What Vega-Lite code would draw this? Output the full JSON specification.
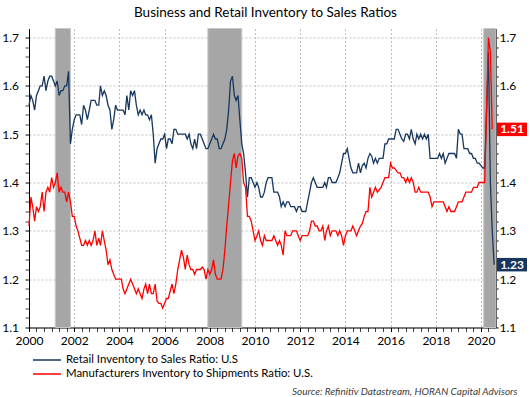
{
  "$schema": "https://vega.github.io/schema/vega-lite/v6.json",
  "width": 467,
  "height": 299,
  "autosize": "none",
  "padding": {"left": 29, "top": 28.5, "right": 34, "bottom": 69.5},
  "background": "white",
  "title": {"text": "Business and Retail Inventory to Sales Ratios", "font": "Lato", "fontSize": 13.5, "fontWeight": "normal", "color": "#000000", "anchor": "middle", "baseline": "alphabetic", "offset": 12, "dx": 3, "dy": 14},
  "datasets": {
    "recessions": [
      {"start": "2001-03-01", "end": "2001-11-01"},
      {"start": "2007-12-01", "end": "2009-06-01"},
      {"start": "2020-02-15", "end": "2020-08-31"}
    ],
    "labels": [
      {"series": "mfg", "value": 1.51, "label": "1.51"},
      {"series": "retail", "value": 1.23, "label": "1.23"}
    ],
    "series": [
      {"date":"2000-01-01","retail":1.56,"mfg":1.31},{"date":"2000-02-01","retail":1.58,"mfg":1.37},{"date":"2000-03-01","retail":1.57,"mfg":1.35},{"date":"2000-04-01","retail":1.55,"mfg":1.32},{"date":"2000-05-01","retail":1.58,"mfg":1.35},{"date":"2000-06-01","retail":1.59,"mfg":1.34},{"date":"2000-07-01","retail":1.60,"mfg":1.35},{"date":"2000-08-01","retail":1.60,"mfg":1.38},{"date":"2000-09-01","retail":1.62,"mfg":1.34},{"date":"2000-10-01","retail":1.59,"mfg":1.38},{"date":"2000-11-01","retail":1.61,"mfg":1.39},{"date":"2000-12-01","retail":1.62,"mfg":1.38},
      {"date":"2001-01-01","retail":1.62,"mfg":1.41},{"date":"2001-02-01","retail":1.61,"mfg":1.39},{"date":"2001-03-01","retail":1.60,"mfg":1.40},{"date":"2001-04-01","retail":1.61,"mfg":1.42},{"date":"2001-05-01","retail":1.58,"mfg":1.38},{"date":"2001-06-01","retail":1.59,"mfg":1.39},{"date":"2001-07-01","retail":1.59,"mfg":1.38},{"date":"2001-08-01","retail":1.60,"mfg":1.38},{"date":"2001-09-01","retail":1.60,"mfg":1.36},{"date":"2001-10-01","retail":1.63,"mfg":1.38},{"date":"2001-11-01","retail":1.48,"mfg":1.36},{"date":"2001-12-01","retail":1.51,"mfg":1.33},
      {"date":"2002-01-01","retail":1.53,"mfg":1.33},{"date":"2002-02-01","retail":1.54,"mfg":1.31},{"date":"2002-03-01","retail":1.54,"mfg":1.30},{"date":"2002-04-01","retail":1.54,"mfg":1.285},{"date":"2002-05-01","retail":1.52,"mfg":1.27},{"date":"2002-06-01","retail":1.56,"mfg":1.27},{"date":"2002-07-01","retail":1.55,"mfg":1.28},{"date":"2002-08-01","retail":1.53,"mfg":1.27},{"date":"2002-09-01","retail":1.55,"mfg":1.28},{"date":"2002-10-01","retail":1.57,"mfg":1.27},{"date":"2002-11-01","retail":1.57,"mfg":1.28},{"date":"2002-12-01","retail":1.57,"mfg":1.30},
      {"date":"2003-01-01","retail":1.56,"mfg":1.27},{"date":"2003-02-01","retail":1.56,"mfg":1.285},{"date":"2003-03-01","retail":1.60,"mfg":1.27},{"date":"2003-04-01","retail":1.58,"mfg":1.30},{"date":"2003-05-01","retail":1.59,"mfg":1.28},{"date":"2003-06-01","retail":1.58,"mfg":1.26},{"date":"2003-07-01","retail":1.56,"mfg":1.23},{"date":"2003-08-01","retail":1.55,"mfg":1.24},{"date":"2003-09-01","retail":1.51,"mfg":1.22},{"date":"2003-10-01","retail":1.53,"mfg":1.21},{"date":"2003-11-01","retail":1.56,"mfg":1.20},{"date":"2003-12-01","retail":1.55,"mfg":1.20},
      {"date":"2004-01-01","retail":1.55,"mfg":1.20},{"date":"2004-02-01","retail":1.55,"mfg":1.20},{"date":"2004-03-01","retail":1.55,"mfg":1.18},{"date":"2004-04-01","retail":1.54,"mfg":1.17},{"date":"2004-05-01","retail":1.58,"mfg":1.18},{"date":"2004-06-01","retail":1.55,"mfg":1.19},{"date":"2004-07-01","retail":1.59,"mfg":1.20},{"date":"2004-08-01","retail":1.58,"mfg":1.19},{"date":"2004-09-01","retail":1.59,"mfg":1.18},{"date":"2004-10-01","retail":1.56,"mfg":1.17},{"date":"2004-11-01","retail":1.54,"mfg":1.18},{"date":"2004-12-01","retail":1.55,"mfg":1.17},
      {"date":"2005-01-01","retail":1.54,"mfg":1.16},{"date":"2005-02-01","retail":1.55,"mfg":1.18},{"date":"2005-03-01","retail":1.54,"mfg":1.19},{"date":"2005-04-01","retail":1.54,"mfg":1.17},{"date":"2005-05-01","retail":1.53,"mfg":1.19},{"date":"2005-06-01","retail":1.54,"mfg":1.17},{"date":"2005-07-01","retail":1.50,"mfg":1.17},{"date":"2005-08-01","retail":1.44,"mfg":1.19},{"date":"2005-09-01","retail":1.47,"mfg":1.155},{"date":"2005-10-01","retail":1.48,"mfg":1.15},{"date":"2005-11-01","retail":1.49,"mfg":1.15},{"date":"2005-12-01","retail":1.49,"mfg":1.14},
      {"date":"2006-01-01","retail":1.50,"mfg":1.15},{"date":"2006-02-01","retail":1.47,"mfg":1.16},{"date":"2006-03-01","retail":1.49,"mfg":1.16},{"date":"2006-04-01","retail":1.49,"mfg":1.175},{"date":"2006-05-01","retail":1.48,"mfg":1.19},{"date":"2006-06-01","retail":1.51,"mfg":1.17},{"date":"2006-07-01","retail":1.51,"mfg":1.19},{"date":"2006-08-01","retail":1.50,"mfg":1.22},{"date":"2006-09-01","retail":1.50,"mfg":1.24},{"date":"2006-10-01","retail":1.50,"mfg":1.26},{"date":"2006-11-01","retail":1.50,"mfg":1.245},{"date":"2006-12-01","retail":1.50,"mfg":1.22},
      {"date":"2007-01-01","retail":1.49,"mfg":1.25},{"date":"2007-02-01","retail":1.50,"mfg":1.23},{"date":"2007-03-01","retail":1.48,"mfg":1.22},{"date":"2007-04-01","retail":1.47,"mfg":1.22},{"date":"2007-05-01","retail":1.49,"mfg":1.21},{"date":"2007-06-01","retail":1.47,"mfg":1.22},{"date":"2007-07-01","retail":1.50,"mfg":1.22},{"date":"2007-08-01","retail":1.50,"mfg":1.22},{"date":"2007-09-01","retail":1.49,"mfg":1.225},{"date":"2007-10-01","retail":1.48,"mfg":1.22},{"date":"2007-11-01","retail":1.47,"mfg":1.20},{"date":"2007-12-01","retail":1.47,"mfg":1.22},
      {"date":"2008-01-01","retail":1.48,"mfg":1.21},{"date":"2008-02-01","retail":1.49,"mfg":1.22},{"date":"2008-03-01","retail":1.50,"mfg":1.24},{"date":"2008-04-01","retail":1.49,"mfg":1.21},{"date":"2008-05-01","retail":1.49,"mfg":1.20},{"date":"2008-06-01","retail":1.47,"mfg":1.20},{"date":"2008-07-01","retail":1.47,"mfg":1.20},{"date":"2008-08-01","retail":1.48,"mfg":1.22},{"date":"2008-09-01","retail":1.49,"mfg":1.26},{"date":"2008-10-01","retail":1.51,"mfg":1.31},{"date":"2008-11-01","retail":1.55,"mfg":1.355},{"date":"2008-12-01","retail":1.61,"mfg":1.40},
      {"date":"2009-01-01","retail":1.62,"mfg":1.445},{"date":"2009-02-01","retail":1.58,"mfg":1.46},{"date":"2009-03-01","retail":1.57,"mfg":1.43},{"date":"2009-04-01","retail":1.58,"mfg":1.455},{"date":"2009-05-01","retail":1.53,"mfg":1.46},{"date":"2009-06-01","retail":1.48,"mfg":1.45},{"date":"2009-07-01","retail":1.46,"mfg":1.40},{"date":"2009-08-01","retail":1.42,"mfg":1.39},{"date":"2009-09-01","retail":1.37,"mfg":1.33},{"date":"2009-10-01","retail":1.41,"mfg":1.33},{"date":"2009-11-01","retail":1.41,"mfg":1.32},{"date":"2009-12-01","retail":1.40,"mfg":1.30},
      {"date":"2010-01-01","retail":1.39,"mfg":1.28},{"date":"2010-02-01","retail":1.40,"mfg":1.29},{"date":"2010-03-01","retail":1.39,"mfg":1.30},{"date":"2010-04-01","retail":1.37,"mfg":1.28},{"date":"2010-05-01","retail":1.37,"mfg":1.27},{"date":"2010-06-01","retail":1.38,"mfg":1.29},{"date":"2010-07-01","retail":1.40,"mfg":1.28},{"date":"2010-08-01","retail":1.41,"mfg":1.28},{"date":"2010-09-01","retail":1.41,"mfg":1.28},{"date":"2010-10-01","retail":1.41,"mfg":1.28},{"date":"2010-11-01","retail":1.38,"mfg":1.29},{"date":"2010-12-01","retail":1.38,"mfg":1.28},
      {"date":"2011-01-01","retail":1.38,"mfg":1.27},{"date":"2011-02-01","retail":1.37,"mfg":1.28},{"date":"2011-03-01","retail":1.35,"mfg":1.27},{"date":"2011-04-01","retail":1.36,"mfg":1.25},{"date":"2011-05-01","retail":1.35,"mfg":1.30},{"date":"2011-06-01","retail":1.36,"mfg":1.29},{"date":"2011-07-01","retail":1.36,"mfg":1.29},{"date":"2011-08-01","retail":1.35,"mfg":1.29},{"date":"2011-09-01","retail":1.35,"mfg":1.30},{"date":"2011-10-01","retail":1.35,"mfg":1.30},{"date":"2011-11-01","retail":1.34,"mfg":1.30},{"date":"2011-12-01","retail":1.35,"mfg":1.29},
      {"date":"2012-01-01","retail":1.35,"mfg":1.28},{"date":"2012-02-01","retail":1.34,"mfg":1.29},{"date":"2012-03-01","retail":1.34,"mfg":1.29},{"date":"2012-04-01","retail":1.34,"mfg":1.29},{"date":"2012-05-01","retail":1.36,"mfg":1.29},{"date":"2012-06-01","retail":1.38,"mfg":1.30},{"date":"2012-07-01","retail":1.40,"mfg":1.32},{"date":"2012-08-01","retail":1.41,"mfg":1.32},{"date":"2012-09-01","retail":1.40,"mfg":1.31},{"date":"2012-10-01","retail":1.39,"mfg":1.31},{"date":"2012-11-01","retail":1.39,"mfg":1.30},{"date":"2012-12-01","retail":1.39,"mfg":1.30},
      {"date":"2013-01-01","retail":1.39,"mfg":1.31},{"date":"2013-02-01","retail":1.40,"mfg":1.28},{"date":"2013-03-01","retail":1.39,"mfg":1.30},{"date":"2013-04-01","retail":1.41,"mfg":1.31},{"date":"2013-05-01","retail":1.41,"mfg":1.29},{"date":"2013-06-01","retail":1.40,"mfg":1.30},{"date":"2013-07-01","retail":1.40,"mfg":1.30},{"date":"2013-08-01","retail":1.40,"mfg":1.30},{"date":"2013-09-01","retail":1.41,"mfg":1.29},{"date":"2013-10-01","retail":1.42,"mfg":1.30},{"date":"2013-11-01","retail":1.44,"mfg":1.29},{"date":"2013-12-01","retail":1.46,"mfg":1.27},
      {"date":"2014-01-01","retail":1.46,"mfg":1.29},{"date":"2014-02-01","retail":1.47,"mfg":1.30},{"date":"2014-03-01","retail":1.45,"mfg":1.30},{"date":"2014-04-01","retail":1.43,"mfg":1.30},{"date":"2014-05-01","retail":1.42,"mfg":1.31},{"date":"2014-06-01","retail":1.42,"mfg":1.30},{"date":"2014-07-01","retail":1.42,"mfg":1.29},{"date":"2014-08-01","retail":1.44,"mfg":1.30},{"date":"2014-09-01","retail":1.42,"mfg":1.31},{"date":"2014-10-01","retail":1.435,"mfg":1.315},{"date":"2014-11-01","retail":1.44,"mfg":1.33},{"date":"2014-12-01","retail":1.43,"mfg":1.34},
      {"date":"2015-01-01","retail":1.45,"mfg":1.34},{"date":"2015-02-01","retail":1.46,"mfg":1.39},{"date":"2015-03-01","retail":1.455,"mfg":1.37},{"date":"2015-04-01","retail":1.44,"mfg":1.38},{"date":"2015-05-01","retail":1.45,"mfg":1.39},{"date":"2015-06-01","retail":1.44,"mfg":1.38},{"date":"2015-07-01","retail":1.45,"mfg":1.385},{"date":"2015-08-01","retail":1.45,"mfg":1.39},{"date":"2015-09-01","retail":1.45,"mfg":1.40},{"date":"2015-10-01","retail":1.48,"mfg":1.41},{"date":"2015-11-01","retail":1.48,"mfg":1.41},{"date":"2015-12-01","retail":1.49,"mfg":1.41},
      {"date":"2016-01-01","retail":1.49,"mfg":1.44},{"date":"2016-02-01","retail":1.49,"mfg":1.43},{"date":"2016-03-01","retail":1.49,"mfg":1.43},{"date":"2016-04-01","retail":1.51,"mfg":1.425},{"date":"2016-05-01","retail":1.51,"mfg":1.42},{"date":"2016-06-01","retail":1.50,"mfg":1.42},{"date":"2016-07-01","retail":1.49,"mfg":1.41},{"date":"2016-08-01","retail":1.485,"mfg":1.41},{"date":"2016-09-01","retail":1.50,"mfg":1.40},{"date":"2016-10-01","retail":1.50,"mfg":1.41},{"date":"2016-11-01","retail":1.49,"mfg":1.40},{"date":"2016-12-01","retail":1.51,"mfg":1.41},
      {"date":"2017-01-01","retail":1.49,"mfg":1.40},{"date":"2017-02-01","retail":1.48,"mfg":1.38},{"date":"2017-03-01","retail":1.50,"mfg":1.38},{"date":"2017-04-01","retail":1.49,"mfg":1.39},{"date":"2017-05-01","retail":1.50,"mfg":1.38},{"date":"2017-06-01","retail":1.49,"mfg":1.38},{"date":"2017-07-01","retail":1.50,"mfg":1.38},{"date":"2017-08-01","retail":1.49,"mfg":1.38},{"date":"2017-09-01","retail":1.50,"mfg":1.38},{"date":"2017-10-01","retail":1.45,"mfg":1.37},{"date":"2017-11-01","retail":1.45,"mfg":1.35},{"date":"2017-12-01","retail":1.45,"mfg":1.36},
      {"date":"2018-01-01","retail":1.45,"mfg":1.36},{"date":"2018-02-01","retail":1.45,"mfg":1.36},{"date":"2018-03-01","retail":1.46,"mfg":1.36},{"date":"2018-04-01","retail":1.45,"mfg":1.36},{"date":"2018-05-01","retail":1.46,"mfg":1.36},{"date":"2018-06-01","retail":1.44,"mfg":1.35},{"date":"2018-07-01","retail":1.45,"mfg":1.34},{"date":"2018-08-01","retail":1.46,"mfg":1.35},{"date":"2018-09-01","retail":1.46,"mfg":1.34},{"date":"2018-10-01","retail":1.46,"mfg":1.34},{"date":"2018-11-01","retail":1.46,"mfg":1.34},{"date":"2018-12-01","retail":1.45,"mfg":1.35},
      {"date":"2019-01-01","retail":1.51,"mfg":1.36},{"date":"2019-02-01","retail":1.50,"mfg":1.36},{"date":"2019-03-01","retail":1.50,"mfg":1.36},{"date":"2019-04-01","retail":1.47,"mfg":1.37},{"date":"2019-05-01","retail":1.47,"mfg":1.38},{"date":"2019-06-01","retail":1.47,"mfg":1.38},{"date":"2019-07-01","retail":1.46,"mfg":1.38},{"date":"2019-08-01","retail":1.46,"mfg":1.38},{"date":"2019-09-01","retail":1.45,"mfg":1.39},{"date":"2019-10-01","retail":1.45,"mfg":1.39},{"date":"2019-11-01","retail":1.44,"mfg":1.39},{"date":"2019-12-01","retail":1.44,"mfg":1.40},
      {"date":"2020-01-01","retail":1.435,"mfg":1.40},{"date":"2020-02-01","retail":1.43,"mfg":1.40},{"date":"2020-03-01","retail":1.43,"mfg":1.40},{"date":"2020-04-01","retail":1.55,"mfg":1.55},{"date":"2020-05-01","retail":1.67,"mfg":1.70},{"date":"2020-06-01","retail":1.40,"mfg":1.67},{"date":"2020-07-01","retail":1.30,"mfg":1.51},{"date":"2020-08-01","retail":1.23,"mfg":null}
    ]
  },
  "layer": [
    {
      "data": {"name": "recessions"},
      "mark": {"type": "rect", "color": "#A6A6A6", "stroke": "#C6C6C6", "strokeWidth": 1},
      "encoding": {
        "x": {"field": "start", "type": "temporal"},
        "x2": {"field": "end"}
      }
    },
    {
      "data": {"name": "series"},
      "transform": [{"fold": ["retail", "mfg"], "as": ["series", "value"]}],
      "mark": {"type": "line", "strokeWidth": 1.3},
      "encoding": {
        "x": {
          "field": "date", "type": "temporal",
          "scale": {"type": "utc", "domain": [{"year": 2000, "month": 1, "date": 1, "utc": true}, {"year": 2020, "month": 8, "date": 31, "utc": true}]},
          "axis": {
            "values": [
              {"year": 2000, "month": 1, "date": 1, "utc": true}, {"year": 2000, "month": 5, "date": 1, "utc": true}, {"year": 2000, "month": 9, "date": 1, "utc": true},
              {"year": 2001, "month": 1, "date": 1, "utc": true}, {"year": 2001, "month": 5, "date": 1, "utc": true}, {"year": 2001, "month": 9, "date": 1, "utc": true},
              {"year": 2002, "month": 1, "date": 1, "utc": true}, {"year": 2002, "month": 5, "date": 1, "utc": true}, {"year": 2002, "month": 9, "date": 1, "utc": true},
              {"year": 2003, "month": 1, "date": 1, "utc": true}, {"year": 2003, "month": 5, "date": 1, "utc": true}, {"year": 2003, "month": 9, "date": 1, "utc": true},
              {"year": 2004, "month": 1, "date": 1, "utc": true}, {"year": 2004, "month": 5, "date": 1, "utc": true}, {"year": 2004, "month": 9, "date": 1, "utc": true},
              {"year": 2005, "month": 1, "date": 1, "utc": true}, {"year": 2005, "month": 5, "date": 1, "utc": true}, {"year": 2005, "month": 9, "date": 1, "utc": true},
              {"year": 2006, "month": 1, "date": 1, "utc": true}, {"year": 2006, "month": 5, "date": 1, "utc": true}, {"year": 2006, "month": 9, "date": 1, "utc": true},
              {"year": 2007, "month": 1, "date": 1, "utc": true}, {"year": 2007, "month": 5, "date": 1, "utc": true}, {"year": 2007, "month": 9, "date": 1, "utc": true},
              {"year": 2008, "month": 1, "date": 1, "utc": true}, {"year": 2008, "month": 5, "date": 1, "utc": true}, {"year": 2008, "month": 9, "date": 1, "utc": true},
              {"year": 2009, "month": 1, "date": 1, "utc": true}, {"year": 2009, "month": 5, "date": 1, "utc": true}, {"year": 2009, "month": 9, "date": 1, "utc": true},
              {"year": 2010, "month": 1, "date": 1, "utc": true}, {"year": 2010, "month": 5, "date": 1, "utc": true}, {"year": 2010, "month": 9, "date": 1, "utc": true},
              {"year": 2011, "month": 1, "date": 1, "utc": true}, {"year": 2011, "month": 5, "date": 1, "utc": true}, {"year": 2011, "month": 9, "date": 1, "utc": true},
              {"year": 2012, "month": 1, "date": 1, "utc": true}, {"year": 2012, "month": 5, "date": 1, "utc": true}, {"year": 2012, "month": 9, "date": 1, "utc": true},
              {"year": 2013, "month": 1, "date": 1, "utc": true}, {"year": 2013, "month": 5, "date": 1, "utc": true}, {"year": 2013, "month": 9, "date": 1, "utc": true},
              {"year": 2014, "month": 1, "date": 1, "utc": true}, {"year": 2014, "month": 5, "date": 1, "utc": true}, {"year": 2014, "month": 9, "date": 1, "utc": true},
              {"year": 2015, "month": 1, "date": 1, "utc": true}, {"year": 2015, "month": 5, "date": 1, "utc": true}, {"year": 2015, "month": 9, "date": 1, "utc": true},
              {"year": 2016, "month": 1, "date": 1, "utc": true}, {"year": 2016, "month": 5, "date": 1, "utc": true}, {"year": 2016, "month": 9, "date": 1, "utc": true},
              {"year": 2017, "month": 1, "date": 1, "utc": true}, {"year": 2017, "month": 5, "date": 1, "utc": true}, {"year": 2017, "month": 9, "date": 1, "utc": true},
              {"year": 2018, "month": 1, "date": 1, "utc": true}, {"year": 2018, "month": 5, "date": 1, "utc": true}, {"year": 2018, "month": 9, "date": 1, "utc": true},
              {"year": 2019, "month": 1, "date": 1, "utc": true}, {"year": 2019, "month": 5, "date": 1, "utc": true}, {"year": 2019, "month": 9, "date": 1, "utc": true},
              {"year": 2020, "month": 1, "date": 1, "utc": true}, {"year": 2020, "month": 5, "date": 1, "utc": true}
            ],
            "tickCount": 200,
            "labelExpr": "utcmonth(datum.value) == 0 && utcyear(datum.value) % 2 == 0 ? utcFormat(datum.value, '%Y') : ''",
            "labelOverlap": false,
            "title": "Source: Refinitiv Datastream, HORAN Capital Advisors",
            "titleFont": "Lato", "titleFontStyle": "italic", "titleFontWeight": "normal", "titleFontSize": 10, "titleColor": "#404040",
            "titleAnchor": "end", "titleAlign": "right", "titleX": 488, "titleY": 64, "titleBaseline": "middle",
            "grid": true,
            "gridOpacity": {"condition": {"test": "utcmonth(datum.value) == 0 && utcyear(datum.value) % 2 == 0", "value": 1}, "value": 0},
            "tickSize": 4,
            "tickOpacity": {"condition": {"test": "utcmonth(datum.value) == 0 && utcyear(datum.value) % 2 == 0", "value": 1}, "value": 0.75},
            "labelPadding": 4, "labelFlush": false, "labelFontSize": 12
          }
        },
        "y": {
          "field": "value", "type": "quantitative",
          "scale": {"domain": [1.1, 1.7187], "nice": false, "zero": false},
          "axis": {
            "title": null, "orient": "left",
            "values": [1.1, 1.12, 1.14, 1.16, 1.18, 1.2, 1.22, 1.24, 1.26, 1.28, 1.3, 1.32, 1.34, 1.36, 1.38, 1.4, 1.42, 1.44, 1.46, 1.48, 1.5, 1.52, 1.54, 1.56, 1.58, 1.6, 1.62, 1.64, 1.66, 1.68, 1.7],
            "tickCount": 200,
            "labelExpr": "abs(datum.value * 10 - round(datum.value * 10)) < 0.01 ? format(datum.value, '.1f') : ''",
            "labelOverlap": false,
            "grid": true,
            "gridOpacity": {"condition": {"test": "abs(datum.value * 10 - round(datum.value * 10)) < 0.01", "value": 1}, "value": 0},
            "tickSize": 4,
            "tickOpacity": {"condition": {"test": "abs(datum.value * 10 - round(datum.value * 10)) < 0.01", "value": 1}, "value": 0.75},
            "labelPadding": 6.5, "labelFontSize": 12
          }
        },
        "color": {
          "field": "series", "type": "nominal",
          "scale": {"domain": ["retail", "mfg"], "range": ["#17375E", "#FF0000"]},
          "legend": {
            "orient": "none", "legendX": 3, "legendY": 324.75, "direction": "vertical", "title": null,
            "symbolType": "stroke", "symbolSize": 784, "symbolStrokeWidth": 1.3,
            "labelFont": "Lato", "labelFontSize": 11.4, "labelColor": "#000000", "labelOffset": 4, "labelLimit": 500,
            "clipHeight": 13.5, "rowPadding": 0, "padding": 0,
            "labelExpr": "datum.value == 'retail' ? 'Retail Inventory to Sales Ratio: U.S' : 'Manufacturers Inventory to Shipments Ratio: U.S.'"
          }
        }
      }
    },
    {
      "data": {"name": "labels"},
      "transform": [{"filter": "datum.series == 'mfg'"}],
      "mark": {"type": "point", "shape": "M0.067,-0.45H2.067V0.45H0.067Z", "size": 900, "filled": true, "color": "#FF0000", "opacity": 1, "strokeWidth": 0},
      "encoding": {
        "x": {"datum": {"year": 2020, "month": 8, "date": 31, "utc": true}, "type": "temporal"},
        "y": {"field": "value", "type": "quantitative", "axis": null}
      }
    },
    {
      "data": {"name": "labels"},
      "transform": [{"filter": "datum.series == 'retail'"}],
      "mark": {"type": "point", "shape": "M0.067,-0.45H2.067V0.45H0.067Z", "size": 900, "filled": true, "color": "#17375E", "opacity": 1, "strokeWidth": 0},
      "encoding": {
        "x": {"datum": {"year": 2020, "month": 8, "date": 31, "utc": true}, "type": "temporal"},
        "y": {"field": "value", "type": "quantitative", "axis": null}
      }
    },
    {
      "data": {"name": "labels"},
      "mark": {"type": "text", "color": "#FFFFFF", "font": "Lato", "fontWeight": "bold", "fontSize": 12, "align": "center", "baseline": "middle", "dx": 16},
      "encoding": {
        "x": {"datum": {"year": 2020, "month": 8, "date": 31, "utc": true}, "type": "temporal"},
        "y": {
          "field": "value", "type": "quantitative",
          "axis": {
            "title": null, "orient": "right",
            "values": [1.1, 1.12, 1.14, 1.16, 1.18, 1.2, 1.22, 1.24, 1.26, 1.28, 1.3, 1.32, 1.34, 1.36, 1.38, 1.4, 1.42, 1.44, 1.46, 1.48, 1.52, 1.54, 1.56, 1.58, 1.6, 1.62, 1.64, 1.66, 1.68, 1.7],
            "tickCount": 200,
            "labelExpr": "abs(datum.value * 10 - round(datum.value * 10)) < 0.01 ? format(datum.value, '.1f') : ''",
            "labelOverlap": false,
            "grid": false, "tickSize": 2, "labelPadding": 1, "labelFontSize": 12
          }
        },
        "text": {"field": "label"}
      }
    }
  ],
  "resolve": {"axis": {"y": "independent"}},
  "config": {
    "view": {"stroke": null},
    "font": "Lato",
    "axis": {"labelFont": "Lato", "labelFontSize": 12, "labelColor": "#000000", "domainColor": "#000000", "domainWidth": 1, "tickColor": "#000000", "gridColor": "#BFBFBF", "gridDash": [2, 2], "gridWidth": 1}
  }
}
